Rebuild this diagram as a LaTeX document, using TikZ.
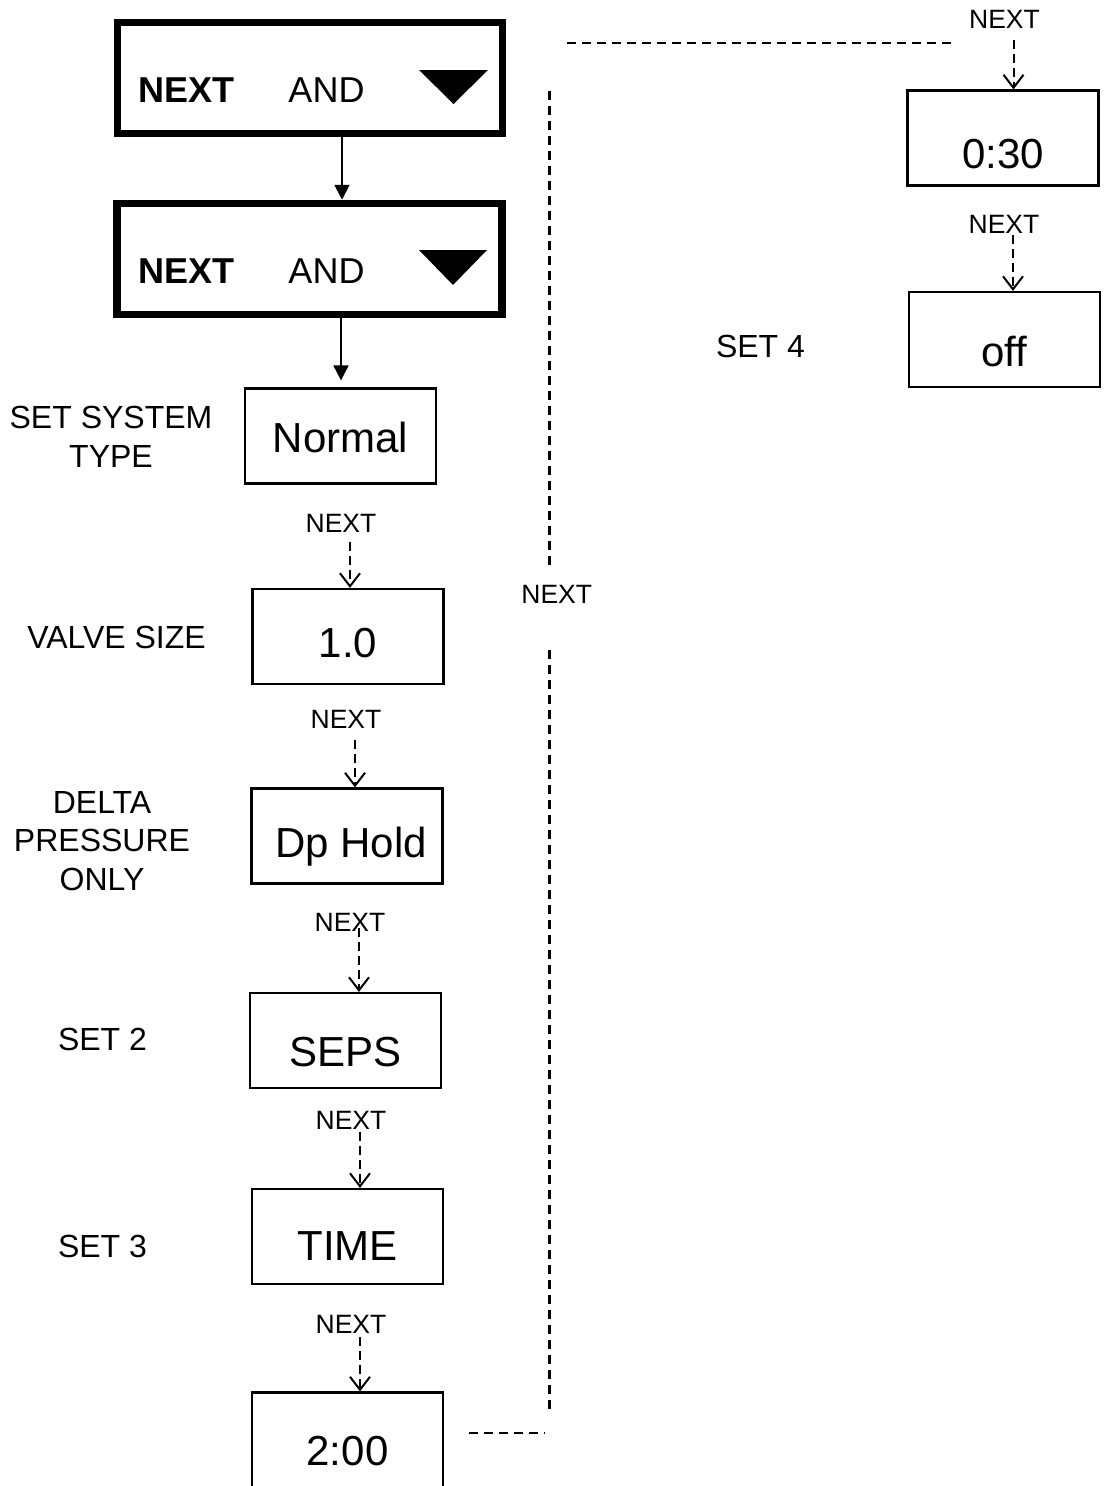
\documentclass[tikz,border=0pt]{standalone}
\usepackage{fontspec}
\setmainfont{Liberation Sans}
\usetikzlibrary{arrows.meta}

\tikzset{
    dispbox/.style={draw, line width=2.2pt, minimum width=191pt, minimum height=95pt,
        inner sep=0pt, font=\fontsize{42}{50}\selectfont, text height=#1, text depth=0pt},
    dispbox/.default=48pt,
    keybox/.style={draw, line width=7.5pt, minimum width=385pt, minimum height=111pt},
    keytext/.style={anchor=base, font=\fontsize{36}{43}\selectfont},
    steplabel/.style={font=\fontsize{32}{38.6}\selectfont, align=center},
    nextlabel/.style={anchor=base, font=\fontsize{26.5}{31}\selectfont},
    nextarrow/.style={line width=2pt, dash pattern=on 9pt off 5pt,
        -{Straight Barb[length=13pt,width=20pt]}},
    jumpline/.style={line width=2.2pt, dash pattern=on 9pt off 6pt},
    keyarrow/.style={line width=1.8pt, -{Triangle[length=15pt,width=15pt]}}
}

\begin{document}
\begin{tikzpicture}[x=1pt, y=-1pt]
        \useasboundingbox (0,0) rectangle (1107,1486);

        % key press boxes
        \node[keybox] (keyone) at (310,78) {};
        \node[keybox] (keytwo) at (309.5,259) {};
        \node[keytext, font=\fontsize{36}{43}\selectfont\bfseries] (keyonenext) at (186.5,102) {NEXT};
        \node[keytext] (keyoneand) at (326.5,102) {AND};
        \node[keytext, font=\fontsize{36}{43}\selectfont\bfseries] (keytwonext) at (186.5,283) {NEXT};
        \node[keytext] (keytwoand) at (326.5,283) {AND};
        \fill (419,70) -- (488,70) -- (453.5,104) -- cycle;
        \fill (419,250) -- (487,250) -- (453,285) -- cycle;

        % display boxes
        \node[dispbox=32pt] (normal) at (340.5,436) {Normal};
        \node[dispbox=41pt] (valve) at (348,636.5) {1.0};
        \node[dispbox=42pt] (hold) at (347,836) {\hspace{8pt}Dp Hold};
        \node[dispbox=52pt] (seps) at (345.5,1040.5) {SEPS};
        \node[dispbox=48pt] (time) at (347.5,1236.5) {TIME};
        \node[dispbox=50pt] (twomin) at (347.5,1440) {2:00};
        \node[dispbox=60pt] (halfmin) at (1003,138) {0:30};
        \node[dispbox=54pt] (off) at (1004.5,339.5) {off};

        % step names
        \node[steplabel] (lsystem) at (111,436.9) {SET SYSTEM\\TYPE};
        \node[steplabel, anchor=base] (lvalve) at (116.5,648) {VALVE SIZE};
        \node[steplabel] (ldelta) at (102,841) {DELTA\\PRESSURE\\ONLY};
        \node[steplabel, anchor=base] (lsettwo) at (102.5,1050) {SET 2};
        \node[steplabel, anchor=base] (lsetthree) at (102.5,1257) {SET 3};
        \node[steplabel, anchor=base] (lsetfour) at (760.5,357) {SET 4};

        % NEXT labels
        \foreach \n/\x/\y in {n1/341/532, n2/346/728, n3/350/931, n4/351/1129,
                              n5/351/1333, n6/1004.5/28, n7/1004/233, nmid/556.7/603}
            {\node[nextlabel] (\n) at (\x,\y) {NEXT};}

        \draw[keyarrow] ([xshift=32pt]keyone.south) -- ([xshift=32pt]keyone.south |- keytwo.north);
        \draw[keyarrow, shorten >=7pt] ([xshift=31.5pt]keytwo.south) -- ([xshift=31.5pt]keytwo.south |- normal.north);

        \foreach \lab/\dst/\gap in {n1/valve/-10pt, n2/hold/-12pt, n3/seps/3pt, n4/time/-3pt,
                                    n5/twomin/-4pt, n6/halfmin/-12pt, n7/off/-2pt}
            {\draw[nextarrow] ([xshift=9pt,yshift=\gap]\lab.base) -- ([xshift=9pt]\lab.base |- \dst.north);}

        % jump back to the top
        \coordinate (jumpa) at (469,1433);
        \coordinate (jumpb) at (545,1433);
        \coordinate (jumpc) at (549.5,1409);
        \coordinate (jumpd) at (549.5,647);
        \coordinate (jumpe) at (549.5,565);
        \coordinate (jumpf) at (549.5,88);
        \coordinate (jumpg) at (567,43);
        \coordinate (jumph) at (951,43);
        \draw[jumpline] (jumpa) -- (jumpb);
        \draw[jumpline] (jumpc) -- (jumpd);
        \draw[jumpline] (jumpe) -- (jumpf);
        \draw[jumpline] (jumpg) -- (jumph);
    \end{tikzpicture}
\end{document}
